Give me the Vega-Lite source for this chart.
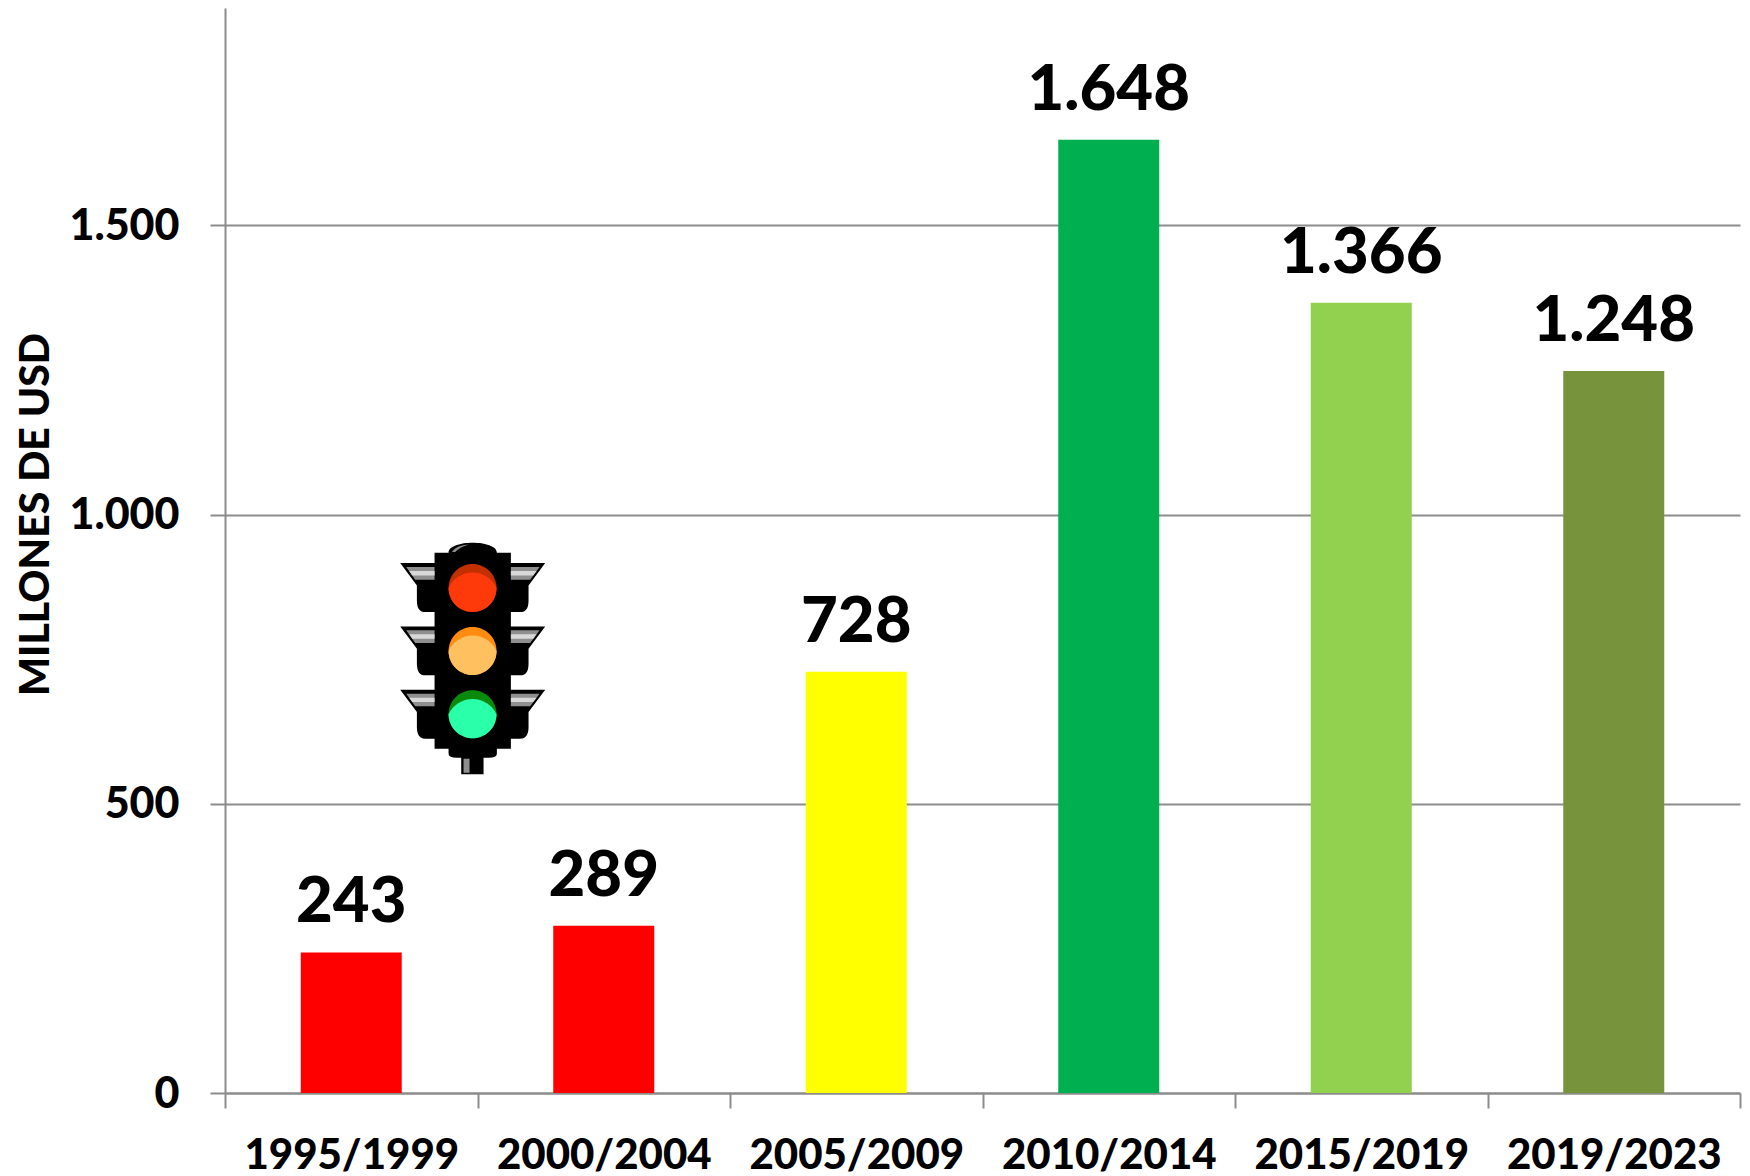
{
"$schema":"https://vega.github.io/schema/vega-lite/v6.json",
"autosize":{"type":"none"},
"padding":{"left":225,"top":8,"right":10,"bottom":83},
"width":1515,"height":1085,
"background":"#ffffff",
"config":{"view":{"stroke":null},"font":"Lato"},
"datasets":{
"bars":[
{"period":"1995/1999","value":243,"label":"243"},
{"period":"2000/2004","value":289,"label":"289"},
{"period":"2005/2009","value":728,"label":"728"},
{"period":"2010/2014","value":1648,"label":"1.648"},
{"period":"2015/2019","value":1366,"label":"1.366"},
{"period":"2019/2023","value":1248,"label":"1.248"}],
"light":[{"period":"1995/1999","value":764}]
},
"data":{"name":"bars"},
"encoding":{
"x":{"field":"period","type":"nominal","sort":null,"scale":{"paddingInner":0,"paddingOuter":0},
"axis":{"title":null,"labelAngle":0,"labelFont":"Lato","labelFontWeight":900,"labelFontSize":42,"labelColor":"#000000","labelPadding":27,"labelLimit":400,"tickBand":"extent","tickSize":15,"tickWidth":2,"tickColor":"#8c8c8c","domainColor":"#8c8c8c","domainWidth":2,"grid":false}},
"y":{"field":"value","type":"quantitative","scale":{"domain":[0,1875.6],"nice":false},
"axis":{"title":"MILLONES DE USD","titleFont":"Lato","titleFontWeight":900,"titleFontSize":41,"titleColor":"#000000","titleX":-177,"titleY":506,"titleAngle":-90,"titleBaseline":"alphabetic","titleAlign":"center","values":[0,500,1000,1500],"labelExpr":"replace(format(datum.value, ','), ',', '.')","labelFont":"Lato","labelFontWeight":900,"labelFontSize":43,"labelColor":"#000000","labelPadding":31,"labelOffset":1,"tickSize":15,"tickWidth":2,"tickColor":"#8c8c8c","domainColor":"#8c8c8c","domainWidth":2,"grid":true,"gridColor":"#8c8c8c","gridWidth":2}}
},
"layer":[
{"mark":{"type":"bar","width":{"band":0.4}},"encoding":{"color":{"field":"period","type":"nominal","sort":null,"legend":null,"scale":{"domain":["1995/1999","2000/2004","2005/2009","2010/2014","2015/2019","2019/2023"],"range":["#ff0000","#ff0000","#ffff00","#00b050","#92d050","#77933c"]}}}},
{"mark":{"type":"text","font":"Lato","fontWeight":900,"fontSize":63.5,"baseline":"alphabetic","align":"center","dy":-30,"color":"#000000"},"encoding":{"text":{"field":"label"}}},
{"data":{"name":"light"},"mark":{"type":"point","filled":true,"opacity":1,"size":0.4444,"strokeWidth":0,"xOffset":121.3,"color":"#000000","shape":"M-114 -295 L-72 -295 C-72 -335 73 -335 73 -295 L115 -295 L115 293 L73 293 L73 308 Q73 320 48 320 L33 320 L33 370 L-34 370 L-34 320 L-47 320 Q-72 320 -72 308 L-72 293 L-114 293 Z M-114 -264 L-217 -264 L-167 -197 L-167 -152 Q-167 -117 -142 -117 L-114 -117 Z M115 -264 L218 -264 L168 -197 L168 -152 Q168 -117 143 -117 L115 -117 Z M-114 -74 L-217 -74 L-167 -7 L-167 38 Q-167 73 -142 73 L-114 73 Z M115 -74 L218 -74 L168 -7 L168 38 Q168 73 143 73 L115 73 Z M-114 116 L-217 116 L-167 183 L-167 228 Q-167 263 -142 263 L-114 263 Z M115 116 L218 116 L168 183 L168 228 Q168 263 143 263 L115 263 Z"}},
{"data":{"name":"light"},"mark":{"type":"point","filled":true,"opacity":1,"size":0.4444,"strokeWidth":0,"xOffset":121.3,"color":"#8f8f8f","shape":"M-199 -252 L-114 -252 L-114 -214 L-172 -214 Z M115 -252 L201 -252 L173 -214 L115 -214 Z M-199 -62 L-114 -62 L-114 -24 L-172 -24 Z M115 -62 L201 -62 L173 -24 L115 -24 Z M-199 128 L-114 128 L-114 166 L-172 166 Z M115 128 L201 128 L173 166 L115 166 Z M-27 323 L-9 323 L-9 365 L-27 365 Z M-62 -297 Q-50 -318 -10 -320 Q-40 -312 -52 -297 Z"}},
{"data":{"name":"light"},"mark":{"type":"point","filled":true,"opacity":1,"size":0.4444,"strokeWidth":0,"xOffset":121.3,"color":"#d8d8d8","shape":"M-190 -240 L-114 -240 L-114 -227 L-181 -227 Z M115 -240 L192 -240 L182 -227 L115 -227 Z M-190 -50 L-114 -50 L-114 -37 L-181 -37 Z M115 -50 L192 -50 L182 -37 L115 -37 Z M-190 140 L-114 140 L-114 153 L-181 153 Z M115 140 L192 140 L182 153 L115 153 Z"}},
{"data":{"name":"light"},"mark":{"type":"point","filled":true,"opacity":1,"size":0.4444,"strokeWidth":0,"xOffset":121.3,"color":"#c23000","shape":"M-72 -189 A72 72 0 1 1 72 -189 A72 72 0 1 1 -72 -189 Z"}},
{"data":{"name":"light"},"mark":{"type":"point","filled":true,"opacity":1,"size":0.4444,"strokeWidth":0,"xOffset":121.3,"color":"#ff3a0a","shape":"M-72 -189 A72 72 0 0 0 72 -189 A79 79 0 0 0 -72 -189 Z"}},
{"data":{"name":"light"},"mark":{"type":"point","filled":true,"opacity":1,"size":0.4444,"strokeWidth":0,"xOffset":121.3,"color":"#ff8c10","shape":"M-72 0 A72 72 0 1 1 72 0 A72 72 0 1 1 -72 0 Z"}},
{"data":{"name":"light"},"mark":{"type":"point","filled":true,"opacity":1,"size":0.4444,"strokeWidth":0,"xOffset":121.3,"color":"#ffc060","shape":"M-72 0 A72 72 0 0 0 72 0 A79 79 0 0 0 -72 0 Z"}},
{"data":{"name":"light"},"mark":{"type":"point","filled":true,"opacity":1,"size":0.4444,"strokeWidth":0,"xOffset":121.3,"color":"#0a8a0a","shape":"M-72 190 A72 72 0 1 1 72 190 A72 72 0 1 1 -72 190 Z"}},
{"data":{"name":"light"},"mark":{"type":"point","filled":true,"opacity":1,"size":0.4444,"strokeWidth":0,"xOffset":121.3,"color":"#2affaa","shape":"M-72 190 A72 72 0 0 0 72 190 A79 79 0 0 0 -72 190 Z"}}
]
}
